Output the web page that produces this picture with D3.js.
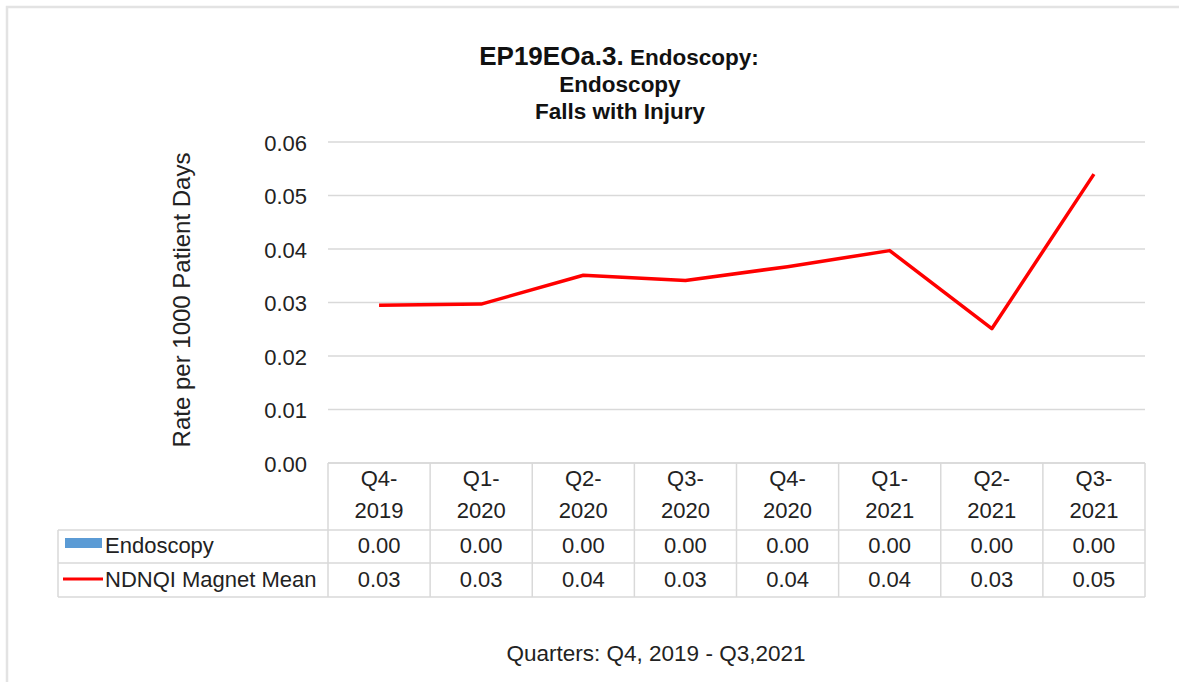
<!DOCTYPE html>
<html>
<head>
<meta charset="utf-8">
<script src="https://cdn.jsdelivr.net/npm/d3@7"></script>
<style>
  body { margin: 0; background: #fff; }
  svg { font-family: "Liberation Sans", Arial, sans-serif; }
</style>
</head>
<body>
<div id="chart"></div>
<script>
(function () {
  const quarters = ['Q4-2019', 'Q1-2020', 'Q2-2020', 'Q3-2020', 'Q4-2020', 'Q1-2021', 'Q2-2021', 'Q3-2021'];
  const endoscopy = [0, 0, 0, 0, 0, 0, 0, 0];
  const magnetMean = [0.0295, 0.0297, 0.0351, 0.0341, 0.0367, 0.0397, 0.0251, 0.0540];
  const yTicks = [0, 0.01, 0.02, 0.03, 0.04, 0.05, 0.06];

  const w = 1179;
  const h = 682;
  const left = 328, right = 1145, top = 142, bottom = 463;
  const rowH = [530, 563, 597];
  const legendLeft = 58;
  const grid = '#d9d9d9';
  const fs = 22;

  const svg = d3.select('#chart').append('svg')
    .attr('width', w)
    .attr('height', h);

  // outer frame
  svg.append('path')
    .attr('d', 'M7,' + h + ' V7 H' + w)
    .attr('fill', 'none')
    .attr('stroke', '#e3e3e3')
    .attr('stroke-width', 2.5);

  const x = d3.scaleBand().domain(quarters).range([left, right]);
  const y = d3.scaleLinear().domain([0, 0.06]).range([bottom, top]);

  // gridlines
  svg.append('g').selectAll('line')
    .data(yTicks)
    .enter().append('line')
    .attr('x1', left).attr('x2', right)
    .attr('y1', (d) => y(d)).attr('y2', (d) => y(d))
    .attr('stroke', grid).attr('stroke-width', 1.5);

  const yAxis = d3.axisLeft(y).tickValues(yTicks).tickFormat(d3.format('.2f')).tickSize(0).tickPadding(21);
  const yg = svg.append('g')
    .attr('transform', 'translate(' + left + ',0)')
    .call(yAxis);
  yg.select('.domain').remove();
  yg.selectAll('text').attr('font-size', fs).attr('fill', '#222').attr('dy', '0.38em');

  svg.append('text')
    .attr('transform', 'translate(190,300) rotate(-90)')
    .attr('text-anchor', 'middle')
    .attr('font-size', 24)
    .attr('fill', '#222')
    .text('Rate per 1000 Patient Days');

  // bars (all zero)
  svg.append('g').selectAll('rect')
    .data(endoscopy)
    .enter().append('rect')
    .attr('x', (d, i) => x(quarters[i]) + x.bandwidth() * 0.25)
    .attr('width', x.bandwidth() * 0.5)
    .attr('y', (d) => y(d))
    .attr('height', (d) => bottom - y(d))
    .attr('fill', '#5b9bd5');

  // line
  const line = d3.line()
    .x((d, i) => x(quarters[i]) + x.bandwidth() / 2)
    .y((d) => y(d));
  svg.append('path')
    .datum(magnetMean)
    .attr('d', line)
    .attr('fill', 'none')
    .attr('stroke', '#ff0000')
    .attr('stroke-width', 3.5)
    .attr('stroke-linejoin', 'round');

  // data table
  const t = svg.append('g').attr('stroke', grid).attr('stroke-width', 1.5);
  t.append('line').attr('x1', left).attr('x2', right).attr('y1', bottom).attr('y2', bottom);
  rowH.forEach((ry) => {
    t.append('line').attr('x1', legendLeft).attr('x2', right).attr('y1', ry).attr('y2', ry);
  });
  t.append('line').attr('x1', legendLeft).attr('x2', legendLeft).attr('y1', rowH[0]).attr('y2', rowH[2]);
  quarters.concat(['end']).forEach((q, i) => {
    const xx = left + i * x.bandwidth();
    t.append('line').attr('x1', xx).attr('x2', xx).attr('y1', bottom).attr('y2', rowH[2]);
  });

  const hdr = svg.append('g').attr('font-size', fs).attr('fill', '#222').attr('text-anchor', 'middle');
  quarters.forEach((q) => {
    const parts = q.split('-');
    const cx = x(q) + x.bandwidth() / 2;
    hdr.append('text').attr('x', cx).attr('y', 486).text(parts[0] + '-');
    hdr.append('text').attr('x', cx).attr('y', 518).text(parts[1]);
  });

  const rows = [
    { name: 'Endoscopy', values: endoscopy, base: 553 },
    { name: 'NDNQI Magnet Mean', values: magnetMean, base: 587 }
  ];
  rows.forEach((r) => {
    svg.append('g').selectAll('text')
      .data(r.values)
      .enter().append('text')
      .attr('x', (d, i) => x(quarters[i]) + x.bandwidth() / 2)
      .attr('y', r.base)
      .attr('text-anchor', 'middle')
      .attr('font-size', fs)
      .attr('fill', '#222')
      .text((d) => d3.format('.2f')(d));
    svg.append('text')
      .attr('x', 105).attr('y', r.base)
      .attr('font-size', fs).attr('fill', '#222')
      .text(r.name);
  });

  svg.append('rect')
    .attr('x', 65).attr('y', 538).attr('width', 37).attr('height', 10)
    .attr('fill', '#5b9bd5');
  svg.append('line')
    .attr('x1', 63).attr('x2', 103).attr('y1', 579).attr('y2', 579)
    .attr('stroke', '#ff0000').attr('stroke-width', 3);

  // title
  const title = svg.append('text')
    .attr('text-anchor', 'middle').attr('font-weight', 'bold').attr('fill', '#111');
  const l1 = title.append('tspan').attr('x', 619).attr('y', 65);
  l1.append('tspan').attr('font-size', 26).text('EP19EOa.3.');
  l1.append('tspan').attr('font-size', 22.5).text(' Endoscopy:');
  title.append('tspan').attr('x', 620).attr('y', 92).attr('font-size', 22.5).text('Endoscopy');
  title.append('tspan').attr('x', 620).attr('y', 119).attr('font-size', 22.5).text('Falls with Injury');

  svg.append('text')
    .attr('x', 656).attr('y', 661)
    .attr('text-anchor', 'middle')
    .attr('font-size', 22.5).attr('fill', '#222')
    .text('Quarters: Q4, 2019 - Q3,2021');
})();
</script>
</body>
</html>
